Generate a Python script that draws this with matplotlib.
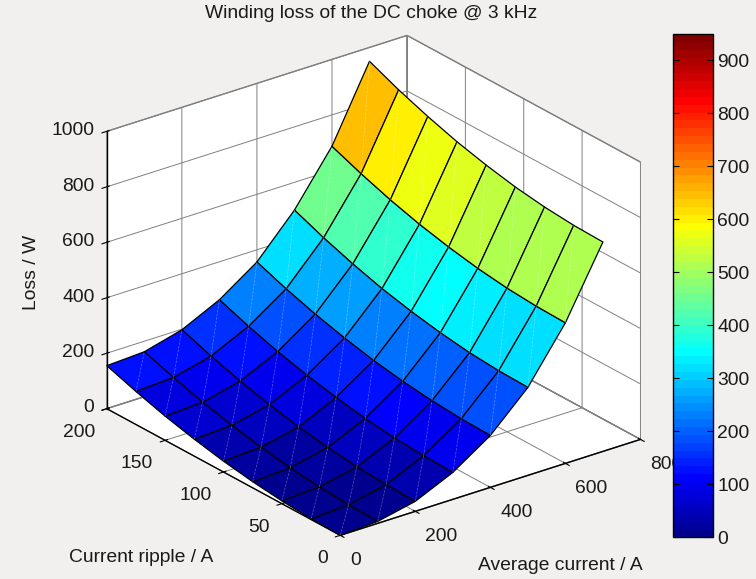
import numpy as np
import matplotlib
matplotlib.use('Agg')
import matplotlib.pyplot as plt
from matplotlib.colors import LinearSegmentedColormap, Normalize
from matplotlib.cm import ScalarMappable

# Data
avg_current = [0, 100, 200, 300, 400, 500, 600, 700]
current_ripple = [0, 25, 50, 75, 100, 125, 150, 175, 200]
# one row per average current, one column per current ripple
loss_0 = [0, 2, 10, 22, 39, 61, 87, 119, 155]
loss_100 = [7, 9, 17, 29, 46, 68, 94, 126, 162]
loss_200 = [36, 39, 46, 59, 76, 99, 127, 160, 198]
loss_300 = [97, 100, 107, 120, 139, 162, 190, 224, 263]
loss_400 = [187, 190, 198, 211, 229, 253, 282, 316, 356]
loss_500 = [317, 320, 328, 343, 363, 388, 420, 457, 500]
loss_600 = [507, 510, 518, 532, 552, 577, 608, 645, 687]
loss_700 = [755, 758, 767, 782, 804, 831, 865, 904, 950]
x_ticks = [0, 200, 400, 600, 800]
y_ticks = [0, 50, 100, 150, 200]
z_ticks = [0, 200, 400, 600, 800, 1000]
cbar_ticks = [0, 100, 200, 300, 400, 500, 600, 700, 800, 900]

bg = '#f1f0ee'
plt.rcParams['font.family'] = ['Liberation Sans', 'DejaVu Sans']
plt.rcParams['font.size'] = 13.9
plt.rcParams['text.color'] = '#1a1a1a'
plt.rcParams['grid.color'] = '#808080'
plt.rcParams['grid.linewidth'] = 0.7
plt.rcParams['axes.linewidth'] = 1.0

# Matlab style jet with 64 levels
jet = LinearSegmentedColormap.from_list('mjet', [
    (0, (0, 0, 0.5625)), (7/63, (0, 0, 1)), (23/63, (0, 1, 1)),
    (39/63, (1, 1, 0)), (55/63, (1, 0, 0)), (1, (0.5, 0, 0))], N=64)
norm = Normalize(0, 950)

X, Y = np.meshgrid(avg_current, current_ripple, indexing='ij')
Z = np.array([loss_0, loss_100, loss_200, loss_300, loss_400, loss_500, loss_600, loss_700], dtype=float)

fig = plt.figure(figsize=(7.56, 5.79), dpi=100, facecolor=bg)
ax = fig.add_axes([65/756, -15/579, 601/756, 601/579], projection='3d', proj_type='ortho', facecolor=bg)
ax.computed_zorder = False
ax.view_init(elev=24.6, azim=232.5)
ax.set_box_aspect((379.4, 384.4, 305.8))
ax.set_xlim(0, 800, view_margin=0)
ax.set_ylim(0, 200, view_margin=0)
ax.set_zlim(0, 1000, view_margin=0)

ax.plot_surface(X, Y, Z, facecolors=jet(norm(Z)), rstride=1, cstride=1, shade=False,
                edgecolor='black', linewidth=0.9, antialiased=True, zorder=2)

# faint seams of the two triangles in each cell
for i in range(len(avg_current) - 1):
    for j in range(len(current_ripple) - 1):
        ax.plot([avg_current[i], avg_current[i+1]], [current_ripple[j], current_ripple[j+1]],
                [Z[i, j], Z[i+1, j+1]], color='white', alpha=0.35, lw=0.5, ls='--', zorder=3)

ax.set_xticks(x_ticks)
ax.set_yticks(y_ticks)
ax.set_zticks(z_ticks)
for axis in (ax.xaxis, ax.yaxis, ax.zaxis):
    axis.set_pane_color('white')
    axis.pane.set_edgecolor('#808080')
ax.tick_params(axis='x', pad=1.5, labelcolor='#1a1a1a')
ax.tick_params(axis='y', pad=1, labelcolor='#1a1a1a')
ax.tick_params(axis='z', pad=-2.8, labelcolor='#1a1a1a')
for t in ax.get_xticklabels():
    t.set_ha('left')
for t in ax.get_yticklabels():
    t.set_ha('right')
for t in ax.get_zticklabels():
    t.set_ha('right')
    t.set_va('center')

fig.text(371/756, 1 - 13/579, 'Winding loss of the DC choke @ 3 kHz', ha='center', va='center')
fig.text(141/756, 1 - 558/579, 'Current ripple / A', ha='center', va='center')
fig.text(560/756, 1 - 566/579, 'Average current / A', ha='center', va='center')
fig.text(31/756, 1 - 272/579, 'Loss / W', ha='center', va='center', rotation=90)

# colorbar, on top so it hides part of the 800 label
cax = fig.add_axes([673/756, 1 - 537/579, 40/756, 503/579], zorder=5)
cb = fig.colorbar(ScalarMappable(norm=norm, cmap=jet), cax=cax)
cb.set_ticks(cbar_ticks)
cax.tick_params(axis='y', direction='in', left=True, right=True, length=4, width=0.8, pad=3, labelcolor='#1a1a1a')
cb.outline.set_linewidth(1.0)

fig.savefig('out.png', dpi=100, facecolor=bg)
